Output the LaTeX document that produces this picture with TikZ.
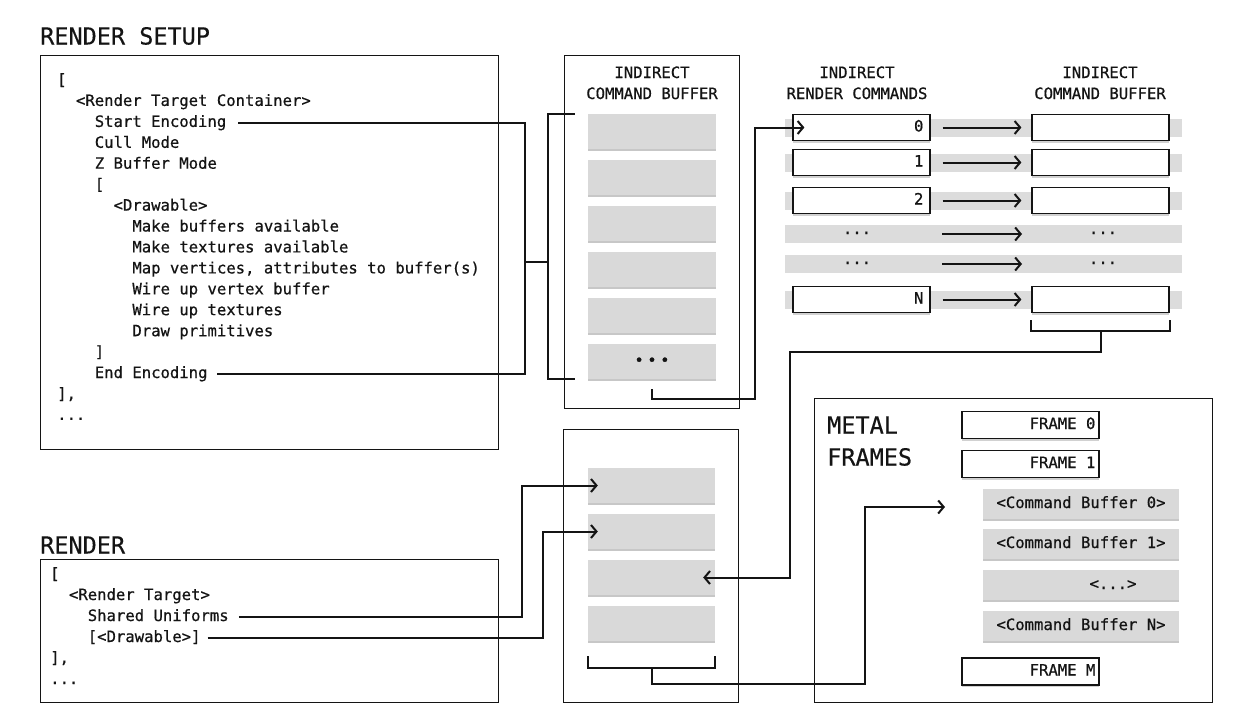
\documentclass[tikz,border=0pt]{standalone}
\usepackage{fontspec}
\setmainfont{DejaVu Sans Mono}
\newfontfamily\mymono[FakeBold=0.6]{DejaVu Sans Mono}
\newfontfamily\mytitle[FakeBold=0.4]{DejaVu Sans Mono}
\usetikzlibrary{arrows.meta,shadows}
\definecolor{bandgray}{HTML}{DCDCDC}
\definecolor{boxgray}{HTML}{D9D9D9}
\definecolor{ink}{HTML}{141414}
\begin{document}
\begin{tikzpicture}[x=1pt,y=-1pt,
  every node/.style={text=ink},
  txt/.style={font=\fontsize{15.6}{20}\mymono, inner sep=0pt, text height=11pt, text depth=3pt},
  code/.style={txt, anchor=west},
  title/.style={font=\fontsize{23.5}{28}\mytitle, inner sep=0pt, anchor=west, text height=17pt, text depth=0pt},
  frame/.style={draw=ink, line width=1pt, inner sep=0pt, fill=white},
  gbox/.style={fill=boxgray, inner sep=0pt, drop shadow={shadow xshift=0pt, shadow yshift=-2pt, opacity=0.22, fill=black}},
  wbox/.style={draw=ink, line width=1.2pt, fill=white, inner sep=0pt, drop shadow={shadow xshift=0pt, shadow yshift=-2pt, opacity=0.18, fill=black}},
  band/.style={fill=bandgray, inner sep=0pt, minimum width=397pt, minimum height=18pt},
  conn/.style={draw=ink, line width=2pt},
  arr/.style={conn, -{Straight Barb[length=5.5pt,width=13pt]}},
]
\fill[white] (0,0) rectangle (1240,720);
\useasboundingbox (0,0) rectangle (1240,720);

% ---------- frames ----------
\node[frame, minimum width=458pt, minimum height=394pt] (setupbox) at (269,252) {};
\node[frame, minimum width=175pt, minimum height=353pt] (icb) at (651.5,231.5) {};
\node[frame, minimum width=175pt, minimum height=273pt] (lcb) at (650.5,565.5) {};
\node[frame, minimum width=458pt, minimum height=143pt] (renderbox) at (269,630.5) {};
\node[frame, minimum width=398pt, minimum height=304pt] (mf) at (1013,550) {};

% ---------- RENDER SETUP ----------
\node[title] (tsetup) at (40,36) {RENDER SETUP};
\node[code] (s0) at (57,81) {[};
\node[code] (s1) at (75.8,101.9) {<Render Target Container>};
\node[code] (s2) at (94.6,122.9) {Start Encoding};
\node[code] (s3) at (94.6,143.8) {Cull Mode};
\node[code] (s4) at (94.6,164.7) {Z Buffer Mode};
\node[code] (s5) at (94.6,185.7) {[};
\node[code] (s6) at (113.4,206.6) {<Drawable>};
\node[code] (s7) at (132.2,227.5) {Make buffers available};
\node[code] (s8) at (132.2,248.4) {Make textures available};
\node[code] (s9) at (132.2,269.4) {Map vertices, attributes to buffer(s)};
\node[code] (s10) at (132.2,290.3) {Wire up vertex buffer};
\node[code] (s11) at (132.2,311.2) {Wire up textures};
\node[code] (s12) at (132.2,332.2) {Draw primitives};
\node[code] (s13) at (94.6,353.1) {]};
\node[code] (s14) at (94.6,374) {End Encoding};
\node[code] (s15) at (57,395) {],};
\node[code] (s16) at (57,415.9) {...};

% ---------- upper indirect command buffer ----------
\node[txt] (icbh1) at (652,74) {INDIRECT};
\node[txt] (icbh2) at (652,95) {COMMAND BUFFER};
\foreach \i/\y in {1/131.5,2/177.5,3/223.5,4/269.5,5/315.5,6/361.5}
  \node[gbox, minimum width=128pt, minimum height=35pt] (ug\i) at (652,\y) {};
\node[txt] (ugdots) at (ug6) {•\hspace{3.5pt}•\hspace{3.5pt}•};

% ---------- indirect render commands ----------
\node[txt] (irh1) at (857,74) {INDIRECT};
\node[txt] (irh2) at (857,95) {RENDER COMMANDS};
\node[txt] (icbh3) at (1100,74) {INDIRECT};
\node[txt] (icbh4) at (1100,95) {COMMAND BUFFER};
\foreach \i/\y in {0/128,1/162.5,2/200.5,3/234,4/264,5/299.5}
  \node[band] (band\i) at (983.5,\y) {};
\foreach \n/\y in {0/127.5,1/162.5,2/200.5,N/299.5}{
  \node[wbox, minimum width=137pt, minimum height=26pt] (r\n L) at (861.5,\y) {};
  \node[wbox, minimum width=137pt, minimum height=26pt] (r\n R) at (1100.5,\y) {};
  \node[txt, anchor=east] (num\n) at ([xshift=-7pt]r\n L.east) {\n};
}
\node[txt] (dl1) at (857,230) {...};
\node[txt] (dr1) at (1103,230) {...};
\node[txt] (dl2) at (857,260) {...};
\node[txt] (dr2) at (1103,260) {...};
\coordinate (da1) at (942,234);
\coordinate (db1) at (1022,234);
\coordinate (da2) at (942,264);
\coordinate (db2) at (1022,264);

% ---------- lower command buffer ----------
\foreach \i/\y in {1/485.5,2/531.5,3/577.5,4/623.5}
  \node[gbox, minimum width=127pt, minimum height=35pt] (lg\i) at (651.5,\y) {};

% ---------- RENDER ----------
\node[title] (trender) at (40,545) {RENDER};
\node[code] (q0) at (50,575) {[};
\node[code] (q1) at (68.8,596) {<Render Target>};
\node[code] (su) at (87.6,617) {Shared Uniforms};
\node[code] (dr) at (87.6,638) {[<Drawable>]};
\node[code] (q4) at (50,659) {],};
\node[code] (q5) at (50,680) {...};

% ---------- METAL FRAMES ----------
\node[title] (mt1) at (827,425) {METAL};
\node[title] (mt2) at (827,457) {FRAMES};
\node[wbox, minimum width=137pt, minimum height=27pt] (f0) at (1030.5,425) {};
\node[txt, anchor=east] (f0t) at ([xshift=-4pt]f0.east) {FRAME 0};
\node[wbox, minimum width=137pt, minimum height=27pt] (f1) at (1030.5,464) {};
\node[txt, anchor=east] (f1t) at ([xshift=-4pt]f1.east) {FRAME 1};
\node[gbox, minimum width=196pt, minimum height=30pt] (cb0) at (1081,504) {};
\node[txt] (cb0t) at (cb0) {<Command Buffer 0>};
\node[gbox, minimum width=196pt, minimum height=30pt] (cb1) at (1081,544) {};
\node[txt] (cb1t) at (cb1) {<Command Buffer 1>};
\node[gbox, minimum width=196pt, minimum height=30pt] (cb2) at (1081,585) {};
\node[txt] (cb2t) at (1113,585) {<...>};
\node[gbox, minimum width=196pt, minimum height=30pt] (cb3) at (1081,626) {};
\node[txt] (cb3t) at (cb3) {<Command Buffer N>};
\node[wbox, minimum width=137pt, minimum height=27pt] (fM) at (1030.5,671.5) {};
\node[txt, anchor=east] (fMt) at ([xshift=-4pt]fM.east) {FRAME M};

% ---------- connectors ----------
\coordinate (vs) at (525,250);
\coordinate (jA) at (525,262);
\coordinate (jB) at (548,262);
\draw[conn] ([xshift=12pt]s2.east) -| (vs) |- ([xshift=9pt]s14.east);
\draw[conn] (jA) -- (jB);
\draw[conn] ([xshift=-13pt]ug1.north west) -| (jB) |- ([xshift=-13pt]ug6.south west);

\coordinate (c755) at (755,300);
\draw[arr] ([yshift=-10pt]ug6.south) -- ++(0,10) -| (c755) |- ([xshift=12pt]r0L.west);

\foreach \n in {0,1,2,N}
  \draw[arr] ([xshift=12pt]r\n L.east) -- ([xshift=-10pt]r\n R.west);
\draw[arr] (da1) -- (db1);
\draw[arr] (da2) -- (db2);

\draw[conn] ([yshift=-7pt]rNR.south west) |- ([yshift=-18pt]rNR.south) -| ([yshift=-7pt]rNR.south east);
\coordinate (c790) at (790,450);
\draw[arr] ([yshift=-18pt]rNR.south) -- ++(0,21) -| (c790) |- ([xshift=-12pt]lg3.east);

\draw[conn] ([yshift=-15pt]lg4.south west) |- ([yshift=-27pt]lg4.south) -| ([yshift=-15pt]lg4.south east);
\coordinate (c865) at (865,600);
\coordinate (mfin) at (945,507);
\draw[arr] ([yshift=-27pt]lg4.south) -- ++(0,16) -| (c865) |- (mfin);

\coordinate (c522) at (522,550);
\draw[arr] ([xshift=10pt]su.east) -| (c522) |- ([xshift=10pt]lg1.west);
\coordinate (c543) at (543,580);
\draw[arr] ([xshift=7pt]dr.east) -| (c543) |- ([xshift=10pt]lg2.west);
\end{tikzpicture}
\end{document}
